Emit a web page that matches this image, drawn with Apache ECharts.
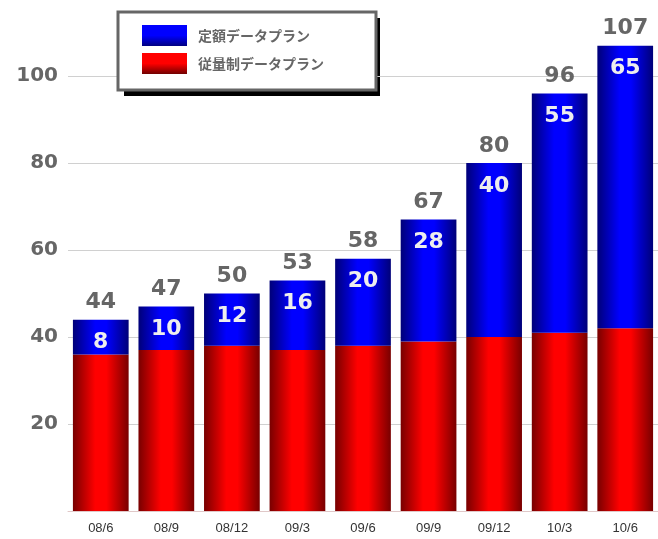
<!DOCTYPE html>
<html>
<head>
<meta charset="utf-8">
<script src="https://cdn.jsdelivr.net/npm/echarts@6/dist/echarts.min.js"></script>
<style>
html,body{margin:0;padding:0;background:#fff;}
#c{width:658px;height:539px;}
</style>
</head>
<body>
<div id="c"></div>
<script>
const categories = ['08/6','08/9','08/12','09/3','09/6','09/9','09/12','10/3','10/6'];
const flatValues = [8,10,12,16,20,28,40,55,65];
const meteredValues = [36,37,38,37,38,39,40,41,42];
const totals = [44,47,50,53,58,67,80,96,107];
const yTicks = [20,40,60,80,100];

function hGrad(dark, bright){
  return new echarts.graphic.LinearGradient(0,0,1,0,[
    {offset:0,color:dark},{offset:0.4,color:bright},{offset:0.6,color:bright},{offset:1,color:dark}
  ]);
}
function vGrad(bright, dark){
  return new echarts.graphic.LinearGradient(0,0,0,1,[
    {offset:0,color:bright},{offset:0.5,color:bright},{offset:1,color:dark}
  ]);
}

const chart = echarts.init(document.getElementById('c'));
chart.setOption({
  animation:false,
  backgroundColor:'#fff',
  grid:{left:68,right:0,top:0,bottom:28,containLabel:false},
  graphic:[
    {type:'rect', left:124, top:18, shape:{width:256,height:78}, style:{fill:'#000'}, z:-1}
  ],
  legend:{
    orient:'vertical',
    left:118, top:12,
    padding:[13,52,16,24],
    itemWidth:45, itemHeight:21, itemGap:7,
    icon:'rect',
    backgroundColor:'#fff',
    borderColor:'#666', borderWidth:3,
    textStyle:{color:'#666',fontSize:14,fontWeight:'bold',fontFamily:'"Noto Sans CJK JP", sans-serif',padding:[0,0,0,6]},
    data:[
      {name:'定額データプラン', itemStyle:{color:vGrad('#0000ff','#000080')}},
      {name:'従量制データプラン', itemStyle:{color:vGrad('#ff0000','#700000')}}
    ]
  },
  xAxis:{
    type:'category', data:categories,
    axisLine:{lineStyle:{color:'#e0c8c8',width:1}},
    axisTick:{show:false},
    axisLabel:{color:'#333',fontSize:13,fontFamily:'"Liberation Sans", Arial, sans-serif',margin:11}
  },
  yAxis:{
    type:'value', min:0, max:117.5, interval:20,
    axisLine:{show:false}, axisTick:{show:false},
    splitLine:{lineStyle:{color:'#d0d0d0',width:1},showMaxLine:false},
    axisLabel:{
      color:'#666',fontSize:20,fontWeight:'bold',fontFamily:'"DejaVu Sans", sans-serif',margin:10,
      showMinLabel:false, showMaxLabel:false,
      formatter:function(v){return yTicks.indexOf(v)>=0?String(v):'';}
    }
  },
  series:[
    {
      name:'従量制データプラン', type:'bar', stack:'a', data:meteredValues,
      barCategoryGap:'15%',
      itemStyle:{color:hGrad('#780000','#ff0000')}
    },
    {
      name:'定額データプラン', type:'bar', stack:'a', data:flatValues,
      itemStyle:{color:hGrad('#000078','#0000ff')},
      label:{show:true,position:'insideTop',distance:12,color:'#eeeeee',fontSize:22,fontWeight:'bold',fontFamily:'"DejaVu Sans", sans-serif'}
    },
    {
      name:'合計', type:'bar', data:totals, barGap:'-100%', z:1,
      itemStyle:{color:'rgba(0,0,0,0)'},
      label:{show:true,position:'top',distance:6,color:'#666',fontSize:22,fontWeight:'bold',fontFamily:'"DejaVu Sans", sans-serif'},
      emphasis:{disabled:true}
    }
  ]
});
</script>
</body>
</html>
